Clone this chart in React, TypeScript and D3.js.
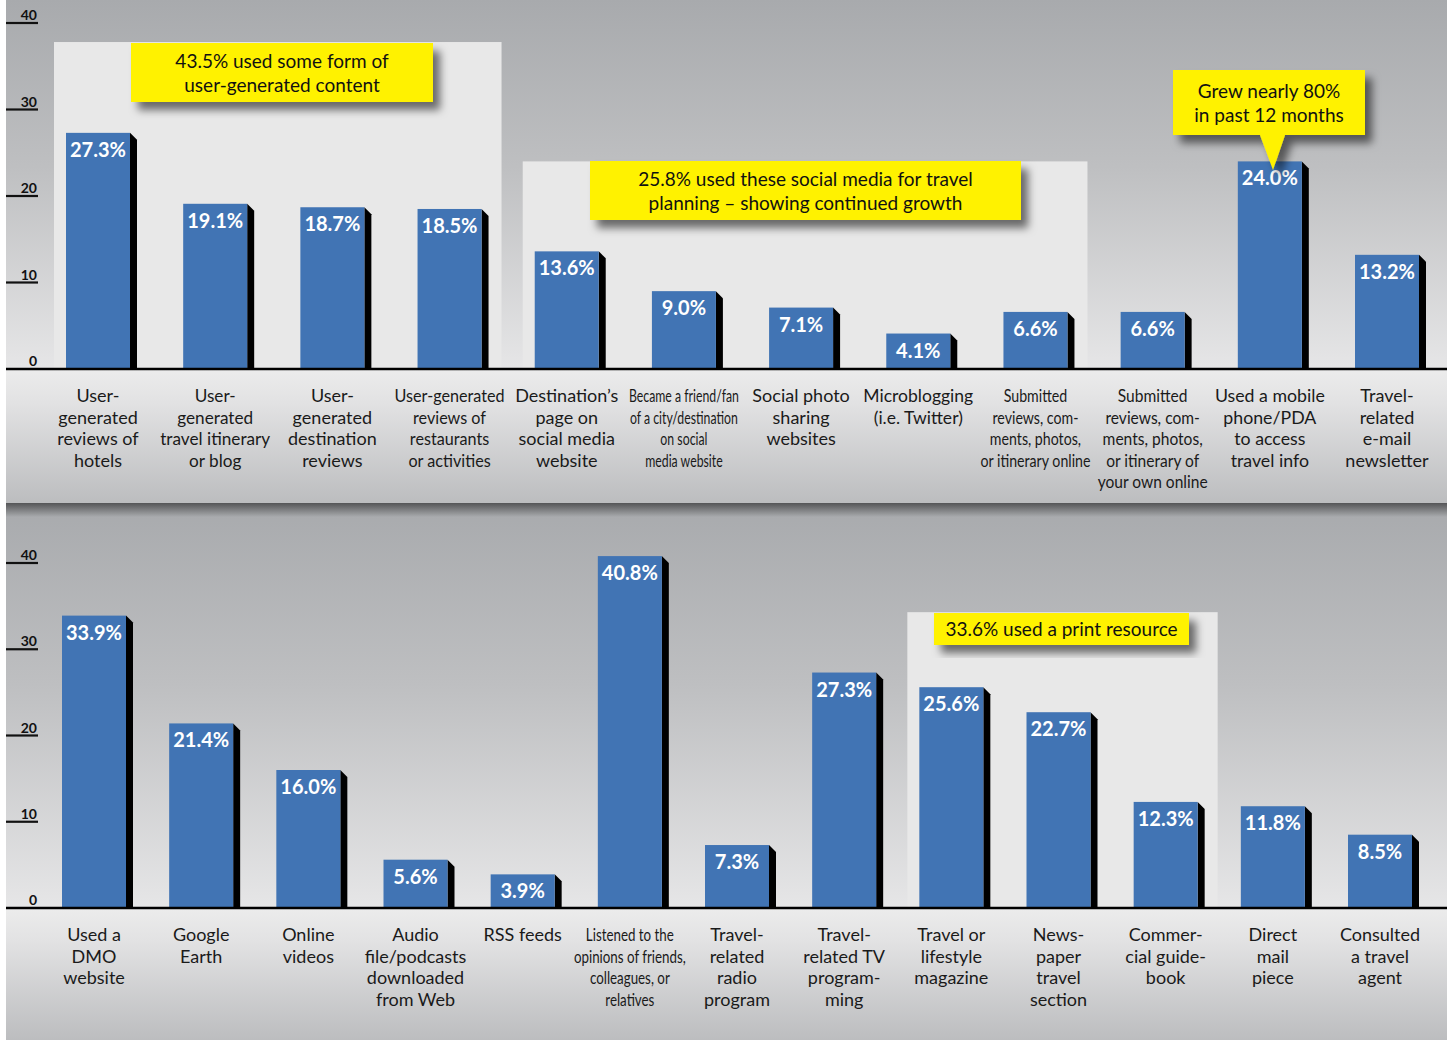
import React, { useEffect, useRef } from 'react';
import * as d3 from 'd3';

const W = 1447;
const H = 1040;

const yTicks = [0, 10, 20, 30, 40];

const topCategories = [
  'User-\ngenerated\nreviews of\nhotels',
  'User-\ngenerated\ntravel itinerary\nor blog',
  'User-\ngenerated\ndestination\nreviews',
  'User-generated\nreviews of\nrestaurants\nor activities',
  'Destination’s\npage on\nsocial media\nwebsite',
  'Became a friend/fan\nof a city/destination\non social\nmedia website',
  'Social photo\nsharing\nwebsites',
  'Microblogging\n(i.e. Twitter)',
  'Submitted\nreviews, com-\nments, photos,\nor itinerary online',
  'Submitted\nreviews, com-\nments, photos,\nor itinerary of\nyour own online',
  'Used a mobile\nphone/PDA\nto access\ntravel info',
  'Travel-\nrelated\ne-mail\nnewsletter',
];
const topValues = [27.3, 19.1, 18.7, 18.5, 13.6, 9.0, 7.1, 4.1, 6.6, 6.6, 24.0, 13.2];

const bottomCategories = [
  'Used a\nDMO\nwebsite',
  'Google\nEarth',
  'Online\nvideos',
  'Audio\nfile/podcasts\ndownloaded\nfrom Web',
  'RSS feeds',
  'Listened to the\nopinions of friends,\ncolleagues, or\nrelatives',
  'Travel-\nrelated\nradio\nprogram',
  'Travel-\nrelated TV\nprogram-\nming',
  'Travel or\nlifestyle\nmagazine',
  'News-\npaper\ntravel\nsection',
  'Commer-\ncial guide-\nbook',
  'Direct\nmail\npiece',
  'Consulted\na travel\nagent',
];
const bottomValues = [33.9, 21.4, 16.0, 5.6, 3.9, 40.8, 7.3, 27.3, 25.6, 22.7, 12.3, 11.8, 8.5];

const topGroups = [
  { from: 0, to: 3, top: 37.8 },
  { from: 4, to: 8, top: 24.0 },
];
const bottomGroups = [{ from: 8, to: 10, top: 34.3 }];

const topCallouts = [
  { lines: ['43.5% used some form of', 'user-generated content'], x0: 131, x1: 433, y0: 43, y1: 102, pointer: false },
  { lines: ['25.8% used these social media for travel', 'planning – showing continued growth'], x0: 590, x1: 1021, y0: 161, y1: 220, pointer: false },
  { lines: ['Grew nearly 80%', 'in past 12 months'], x0: 1173, x1: 1365, y0: 70, y1: 135, pointer: true },
];
const bottomCallouts = [
  { lines: ['33.6% used a print resource'], x0: 934, x1: 1189, y0: 613, y1: 645, pointer: false },
];

const FONT = 'Lato, "Open Sans", sans-serif';
const BAR = '#4174b4';
const BW = 64;

export default function App() {
  const ref = useRef<SVGSVGElement | null>(null);

  useEffect(() => {
    const svg = d3.select(ref.current);
    svg.selectAll('*').remove();
    const defs = svg.append('defs');

    const grad = (id: string, stops: [number, string, number?][]) => {
      const lg = defs.append('linearGradient').attr('id', id).attr('x1', 0).attr('y1', 0).attr('x2', 0).attr('y2', 1);
      stops.forEach(([o, c, op]) => {
        lg.append('stop').attr('offset', o).attr('stop-color', c).attr('stop-opacity', op ?? 1);
      });
    };
    grad('plotGrad', [[0, '#a8aaad'], [0.45, '#bebfc1'], [1, '#e6e6e7']]);
    grad('labelGrad', [[0, '#ececec'], [0.25, '#e2e2e3'], [1, '#bcbdbf']]);
    grad('shadowGrad', [[0, '#000', 0.5], [1, '#000', 0]]);

    const f = defs.append('filter').attr('id', 'dropShadow').attr('x', '-10%').attr('y', '-20%').attr('width', '130%').attr('height', '160%');
    f.append('feDropShadow').attr('dx', 7).attr('dy', 8).attr('stdDeviation', 4)
      .attr('flood-color', '#000').attr('flood-opacity', 0.55);

    const drawPanel = (opts: {
      panelTop: number; base: number; y40: number; panelBottom: number;
      categories: string[]; values: number[]; xRange: [number, number];
      groups: { from: number; to: number; top: number }[];
      callouts: typeof topCallouts; labelY: number; maxW: number;
    }) => {
      const g = svg.append('g');
      const y = d3.scaleLinear().domain([0, 40]).range([opts.base, opts.y40]);
      const x = d3.scalePoint<number>().domain(opts.values.map((_, i) => i)).range(opts.xRange).padding(0);

      // backgrounds
      g.append('rect').attr('x', 6).attr('y', opts.panelTop).attr('width', W - 6)
        .attr('height', opts.base - opts.panelTop).attr('fill', 'url(#plotGrad)');
      g.append('rect').attr('x', 6).attr('y', opts.base).attr('width', W - 6)
        .attr('height', opts.panelBottom - opts.base).attr('fill', 'url(#labelGrad)');

      // highlight boxes
      opts.groups.forEach((gr) => {
        const left = (x(gr.from) as number) - BW / 2 - 12;
        const right = (x(gr.to) as number) + BW / 2 + 20;
        g.append('rect').attr('x', left).attr('y', y(gr.top)).attr('width', right - left)
          .attr('height', opts.base - y(gr.top)).attr('fill', '#e8e8e8');
      });

      // y ticks
      yTicks.forEach((t) => {
        g.append('text').attr('x', 37).attr('y', y(t) - 3).attr('text-anchor', 'end')
          .attr('font-family', FONT).attr('font-weight', 700).attr('font-size', 14).attr('fill', '#111').text(t);
        if (t !== 0) {
          g.append('line').attr('x1', 6).attr('x2', 38).attr('y1', y(t)).attr('y2', y(t))
            .attr('stroke', '#111').attr('stroke-width', 2.2);
        }
      });

      // bars
      opts.values.forEach((v, i) => {
        const cx = x(i) as number;
        const x0 = cx - BW / 2;
        const top = y(v);
        g.append('path')
          .attr('d', `M${x0 + BW},${top} L${x0 + BW + 7},${top + 7} L${x0 + BW + 7},${opts.base} L${x0 + BW},${opts.base} Z`)
          .attr('fill', '#000');
        g.append('rect').attr('x', x0).attr('y', top).attr('width', BW).attr('height', opts.base - top).attr('fill', BAR);
        g.append('text').attr('x', cx).attr('y', top + 24).attr('text-anchor', 'middle')
          .attr('font-family', FONT).attr('font-weight', 700).attr('font-size', 20).attr('fill', '#fff')
          .text(v.toFixed(1) + '%');
      });

      // baseline
      g.append('line').attr('x1', 6).attr('x2', W).attr('y1', opts.base).attr('y2', opts.base)
        .attr('stroke', '#000').attr('stroke-width', 2.5);

      // category labels (condensed horizontally when too wide)
      opts.categories.forEach((c, i) => {
        const cx = x(i) as number;
        const lines = c.split('\n');
        const texts = lines.map((ln, j) =>
          g.append('text').attr('x', 0).attr('y', 0).attr('text-anchor', 'middle')
            .attr('transform', `translate(${cx},${opts.labelY + j * 21.5})`)
            .attr('font-family', FONT).attr('font-size', 18).attr('fill', '#1a1a1a').text(ln)
        );
        const lens = texts.map((t) => (t.node() as SVGTextElement).getComputedTextLength());
        const mx = Math.max(...lens);
        if (mx > opts.maxW) {
          const k = opts.maxW / mx;
          texts.forEach((t, j) =>
            t.attr('transform', `translate(${cx},${opts.labelY + j * 21.5}) scale(${k},1)`)
          );
        }
      });

      // callouts
      opts.callouts.forEach((co) => {
        let d = `M${co.x0},${co.y0} H${co.x1} V${co.y1} `;
        if (co.pointer) {
          d += `H1285 L1273,170 L1260,${co.y1} `;
        }
        d += `H${co.x0} Z`;
        g.append('path').attr('d', d).attr('fill', '#fff200').attr('filter', 'url(#dropShadow)');
        const cy = (co.y0 + co.y1) / 2;
        const lh = 24;
        const n = co.lines.length;
        co.lines.forEach((ln, j) => {
          g.append('text').attr('x', (co.x0 + co.x1) / 2)
            .attr('y', cy - ((n - 1) * lh) / 2 + 7 + j * lh)
            .attr('text-anchor', 'middle').attr('font-family', FONT).attr('font-size', 19).attr('fill', '#111')
            .text(ln);
        });
      });
    };

    drawPanel({
      panelTop: 0, base: 369, y40: 23, panelBottom: 503,
      categories: topCategories, values: topValues, xRange: [98, 1387],
      groups: topGroups, callouts: topCallouts, labelY: 402, maxW: 110,
    });

    drawPanel({
      panelTop: 503, base: 908, y40: 563, panelBottom: 1040,
      categories: bottomCategories, values: bottomValues, xRange: [94, 1380],
      groups: bottomGroups, callouts: bottomCallouts, labelY: 941, maxW: 112,
    });

    // shadow under top panel
    svg.append('rect').attr('x', 6).attr('y', 503).attr('width', W - 6).attr('height', 14)
      .attr('fill', 'url(#shadowGrad)');
  }, []);

  return (
    <svg
      ref={ref}
      width={W}
      height={H}
      style={{ position: 'absolute', left: 0, top: 0, display: 'block', background: '#fff' }}
    />
  );
}
